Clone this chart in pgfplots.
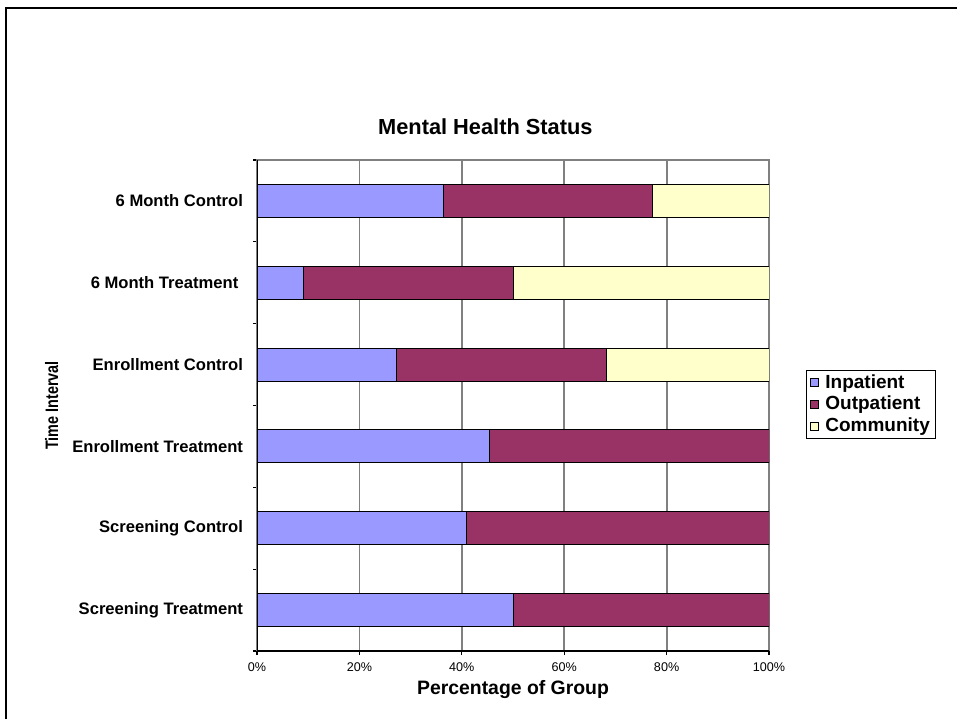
\documentclass[border=0pt]{standalone}
\usepackage{fontspec}
\setmainfont{Liberation Sans}
\usepackage{pgfplots}
\pgfplotsset{compat=1.18}
\definecolor{inpat}{RGB}{153,153,255}
\definecolor{outpat}{RGB}{153,51,102}
\definecolor{commun}{RGB}{255,255,204}
\definecolor{gridc}{RGB}{128,128,128}

\begin{document}
\begin{tikzpicture}
\useasboundingbox (0,0) rectangle (478.5pt,359.5pt);
\draw[line width=1pt] (3pt,0) -- (3pt,355.5pt) -- (478.5pt,355.5pt);
\begin{axis}[
    at={(128.5pt,34pt)}, anchor=south west,
    scale only axis,
    width=256pt, height=245.5pt,
    xbar stacked,
    bar width=16.5pt,
    xmin=0, xmax=100,
    ymin=-0.5, ymax=5.5,
    xtick={0,20,...,100},
    xticklabel={\pgfmathprintnumber{\tick}\%},
    /pgf/number format/assume math mode=true,
    ytick={0,...,5},
    yticklabels={Screening Treatment, Screening Control, Enrollment Treatment,
                 Enrollment Control, 6 Month Treatment\ \ , 6 Month Control},
    minor ytick={-0.5,0.5,...,5.5},
    major tick length=0pt,
    minor tick length=2pt,
    tick align=outside,
    ytick pos=left,
    xtick pos=bottom,
    extra x ticks={0,20,...,100},
    extra x tick labels={},
    extra x tick style={major tick length=2pt, grid=none},
    xmajorgrids,
    grid style={gridc, line width=0.9pt},
    axis line style={gridc, line width=0.9pt},
    tick style={black, line width=0.6pt},
    xticklabel style={font=\fontsize{6.3}{7}\selectfont, yshift=-2.5pt},
    yticklabel style={font=\bfseries\fontsize{8.3}{9}\selectfont, xshift=-3.5pt},
    title={\bfseries Mental Health Status},
    every axis title shift=0pt,
    title style={font=\fontsize{10.9}{12}\selectfont, at={(0.446,1.067)}, anchor=center},
    xlabel={\bfseries Percentage of Group},
    xlabel style={font=\fontsize{9.7}{11}\selectfont, at={(0.5,-0.078)}, anchor=center},
    ylabel={\scalebox{0.8}[1]{\bfseries Time Interval}},
    ylabel style={font=\fontsize{9}{10}\selectfont, at={(-0.401,0.5)}, anchor=center},
    legend style={draw=black, line width=0.5pt, at={(1.072,0.502)}, anchor=west,
                  font=\bfseries\fontsize{9.5}{10.5}\selectfont,
                  row sep=-1.5pt, inner xsep=1pt, inner ysep=0pt,
                  cells={anchor=west}},
    legend image code/.code={
        \path[draw=none, fill=none] (0pt,0pt) -- (6.5pt,0pt);
        \draw[#1, line width=0.5pt] (1pt,-2pt) rectangle (5pt,2pt);},
    every axis plot/.append style={draw=black, line width=0.5pt},
]
\addplot[fill=inpat] coordinates {
    (50.0,0) (40.9,1) (45.5,2) (27.3,3) (9.1,4) (36.4,5)
};
\addplot[fill=outpat] coordinates {
    (50.0,0) (59.1,1) (54.5,2) (40.9,3) (40.9,4) (40.9,5)
};
\addplot[fill=commun] coordinates {
    (0,0) (0,1) (0,2) (31.8,3) (50.0,4) (22.7,5)
};
\legend{Inpatient, Outpatient, Community}
\draw[black, line width=0.6pt] (rel axis cs:0,1) -- (rel axis cs:0,0) -- (rel axis cs:1,0);
\end{axis}
\end{tikzpicture}
\end{document}
